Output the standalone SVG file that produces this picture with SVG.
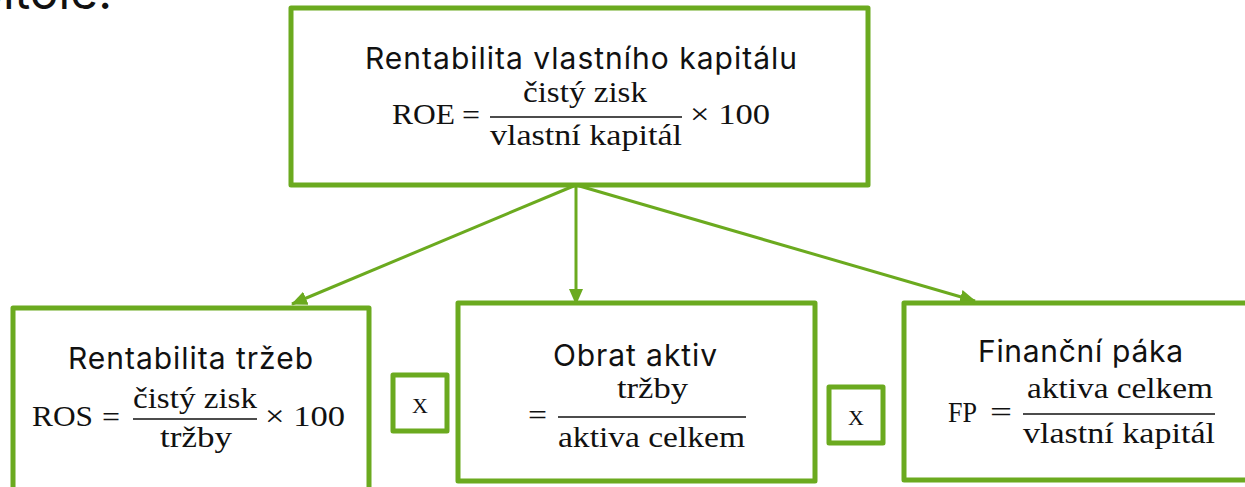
<svg xmlns="http://www.w3.org/2000/svg" width="1245" height="487" viewBox="0 0 1245 487">
<style>
.box{fill:#fff;stroke:#6BAA1F;stroke-width:5;stroke-linejoin:round}
.conn{stroke:#6BAA1F;stroke-width:3;fill:none}
.lbl{font-family:Inter,"Noto Sans","DejaVu Sans",sans-serif;font-size:30px;fill:#111}
.m{font-family:"Liberation Serif","DejaVu Serif",serif;font-size:30px;fill:#111}
.mc{text-anchor:middle}
.bar{stroke:#111;stroke-width:1.6}
.top{font-family:Inter,"Noto Sans",sans-serif;font-size:48px;fill:#111;text-anchor:end}
</style>
<defs>
<marker id="ah" markerUnits="userSpaceOnUse" markerWidth="16" markerHeight="14" refX="15" refY="7" orient="auto">
<path d="M0,0 L16,7 L0,14 Z" fill="#6BAA1F"/>
</marker>
</defs>
<rect width="1245" height="487" fill="#fff"/>
<text class="top" x="112" y="9">kapitole.</text>

<g id="connectors">
<line class="conn" x1="576" y1="185" x2="292" y2="304" marker-end="url(#ah)"/>
<line class="conn" x1="576" y1="185" x2="576" y2="304" marker-end="url(#ah)"/>
<line class="conn" x1="576" y1="185" x2="975" y2="301" marker-end="url(#ah)"/>
</g>

<g id="roe">
<rect class="box" x="291" y="8" width="577" height="177"/>
<text class="lbl" x="365" y="69" textLength="432">Rentabilita vlastního kapitálu</text>
<text class="m" x="392" y="124" textLength="63" lengthAdjust="spacingAndGlyphs">ROE</text>
<text class="m" x="462" y="125" textLength="18" lengthAdjust="spacingAndGlyphs">=</text>
<line class="bar" x1="490" y1="117" x2="682" y2="117"/>
<text class="m" x="523" y="102" textLength="124" lengthAdjust="spacingAndGlyphs">čistý zisk</text>
<text class="m" x="490" y="145" textLength="192" lengthAdjust="spacingAndGlyphs">vlastní kapitál</text>
<text class="m" x="690" y="124" textLength="80" lengthAdjust="spacingAndGlyphs">× 100</text>
</g>

<g id="ros">
<rect class="box" x="13" y="308" width="356" height="200"/>
<text class="lbl" x="68" y="369" textLength="245">Rentabilita tržeb</text>
<text class="m" x="32" y="426" textLength="61" lengthAdjust="spacingAndGlyphs">ROS</text>
<text class="m" x="102" y="427" textLength="18" lengthAdjust="spacingAndGlyphs">=</text>
<line class="bar" x1="133" y1="419" x2="257" y2="419"/>
<text class="m" x="133" y="408" textLength="124" lengthAdjust="spacingAndGlyphs">čistý zisk</text>
<text class="m" x="160" y="447" textLength="72" lengthAdjust="spacingAndGlyphs">tržby</text>
<text class="m" x="265" y="426" textLength="80" lengthAdjust="spacingAndGlyphs">× 100</text>
</g>

<g id="times1">
<rect class="box" x="393" y="375" width="54" height="56"/>
<text class="m mc" x="420" y="413" style="font-size:22px">X</text>
</g>

<g id="obrat">
<rect class="box" x="458" y="303" width="357" height="178"/>
<text class="lbl" x="553" y="366" textLength="164">Obrat aktiv</text>
<text class="m" x="528" y="425" textLength="19" lengthAdjust="spacingAndGlyphs">=</text>
<line class="bar" x1="558" y1="417" x2="746" y2="417"/>
<text class="m" x="617" y="398" textLength="71" lengthAdjust="spacingAndGlyphs">tržby</text>
<text class="m" x="558" y="447" textLength="187" lengthAdjust="spacingAndGlyphs">aktiva celkem</text>
</g>

<g id="times2">
<rect class="box" x="829" y="387" width="54" height="56"/>
<text class="m mc" x="856" y="425" style="font-size:22px">X</text>
</g>

<g id="fp">
<rect class="box" x="904" y="303" width="360" height="177"/>
<text class="lbl" x="978" y="362" textLength="205">Finanční páka</text>
<text class="m" x="948" y="422" textLength="29" lengthAdjust="spacingAndGlyphs">FP</text>
<text class="m" x="990" y="422" textLength="22" lengthAdjust="spacingAndGlyphs">=</text>
<line class="bar" x1="1023" y1="414" x2="1215" y2="414"/>
<text class="m" x="1027" y="398" textLength="186" lengthAdjust="spacingAndGlyphs">aktiva celkem</text>
<text class="m" x="1023" y="443" textLength="192" lengthAdjust="spacingAndGlyphs">vlastní kapitál</text>
</g>
</svg>
